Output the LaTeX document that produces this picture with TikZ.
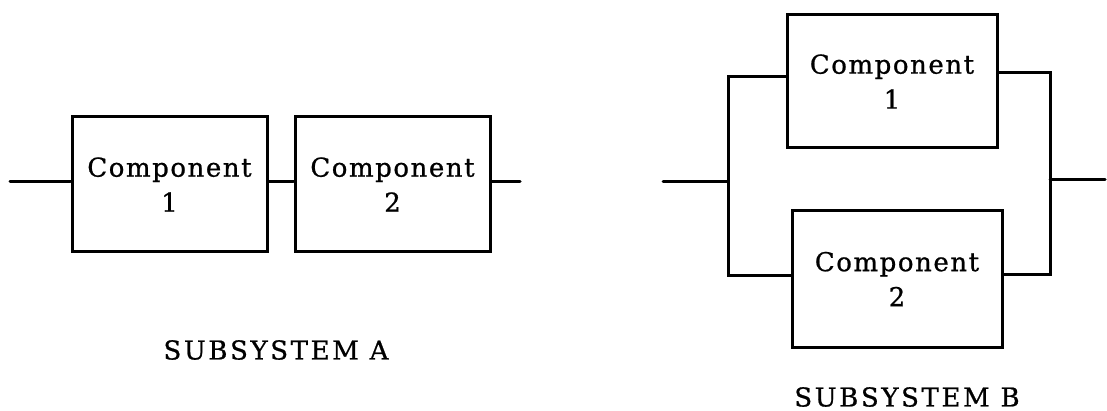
\documentclass[tikz,border=0pt]{standalone}
\usepackage{fontspec}
\setmainfont{DejaVu Serif}[FakeBold=0.8]
\newfontfamily\boxfont{DejaVu Serif}[LetterSpace=6,FakeBold=0.8]
\newfontfamily\labfont{DejaVu Serif}[LetterSpace=10,FakeBold=0.8]
\usetikzlibrary{positioning}
\begin{document}
\begin{tikzpicture}[x=1pt,y=-1pt,
  wire/.style={line width=3pt, line cap=round, line join=miter},
  compbox/.style={draw, line width=3pt, minimum width=195pt, minimum height=135pt,
    align=center, inner sep=0pt, font=\boxfont\fontsize{26}{35}\selectfont},
  sublabel/.style={inner sep=0pt, font=\labfont\fontsize{26}{30}\selectfont}]
\useasboundingbox (0,0) rectangle (1107,411);
% Subsystem A
\node[compbox] (a1) at (169.5,184.5) {Component\\1};
\node[compbox] (a2) at (392.5,184.5) {Component\\2};
\coordinate (ain) at (10,182);
\coordinate (aout) at (520,182);
\draw[wire] (ain) -- (a1.west |- ain);
\draw[wire] (a1.east |- ain) -- (a2.west |- ain);
\draw[wire] (a2.east |- ain) -- (aout);
\node[sublabel] (la) at (276,350) {SUBSYSTEM A};
% Subsystem B
\node[compbox, minimum width=210pt, minimum height=133pt] (b1) at (892,81.5) {Component\\1};
\node[compbox, minimum width=210pt, minimum height=136pt] (b2) at (897,279) {Component\\2};
\coordinate (bin) at (663,182);
\coordinate (jl) at (728,182);
\coordinate (jr) at (1050,180);
\coordinate (bout) at (1105,180);
\coordinate (t1) at (728,77);
\coordinate (t2) at (1050,73);
\coordinate (u1) at (728,276);
\coordinate (u2) at (1050,275);
\draw[wire] (bin) -- (jl);
\draw[wire] (b1.west |- t1) -- (t1) -- (u1) -- (b2.west |- u1);
\draw[wire] (b1.east |- t2) -- (t2) -- (u2) -- (b2.east |- u2);
\draw[wire] (jr) -- (bout);
\node[sublabel] (lb) at (907,397) {SUBSYSTEM B};
\end{tikzpicture}
\end{document}
